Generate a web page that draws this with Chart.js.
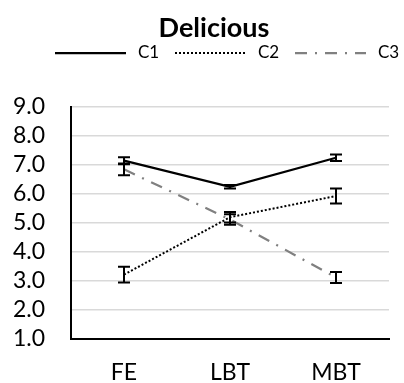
<!DOCTYPE html>
<html>
<head>
<meta charset="utf-8">
<script src="https://cdn.jsdelivr.net/npm/chart.js@4.4.1/dist/chart.umd.min.js"></script>
<style>
  html, body { margin: 0; padding: 0; background: #fff; }
  canvas { display: block; }
</style>
</head>
<body>
<canvas id="chart" width="404" height="383"></canvas>
<script>
// categories and series
const categories = ['FE', 'LBT', 'MBT'];
const seriesNames = ['C1', 'C2', 'C3'];
const c1Values = [7.15, 6.25, 7.25];
const c2Values = [3.22, 5.2, 5.93];
const c3Values = [6.85, 5.12, 3.12];
const c1Errors = [0.12, 0.06, 0.11];
const c2Errors = [0.27, 0.18, 0.26];
const c3Errors = [0.2, 0.18, 0.19];
const yTicks = [1, 2, 3, 4, 5, 6, 7, 8, 9];

const FONT = 'Lato, "DejaVu Sans", sans-serif';
Chart.defaults.color = '#000';
Chart.defaults.font.family = FONT;

/**
 * Vertical error bars with caps, drawn through the y scale
 */
const errorBars = {
  id: 'errorBars',
  afterDatasetsDraw(chart) {
    const ctx = chart.ctx;
    const y = chart.scales.y;
    chart.data.datasets.forEach((ds, i) => {
      const meta = chart.getDatasetMeta(i);
      ctx.save();
      ctx.strokeStyle = '#000';
      ctx.lineWidth = 2;
      meta.data.forEach((pt, j) => {
        const v = ds.data[j];
        const e = ds.errors[j];
        const top = y.getPixelForValue(v + e);
        const bot = y.getPixelForValue(v - e);
        ctx.beginPath();
        ctx.moveTo(pt.x, top);
        ctx.lineTo(pt.x, bot);
        ctx.moveTo(pt.x - 6, top);
        ctx.lineTo(pt.x + 6, top);
        ctx.moveTo(pt.x - 6, bot);
        ctx.lineTo(pt.x + 6, bot);
        ctx.stroke();
      });
      ctx.restore();
    });
  }
};

/**
 * Excel-style legend: a line sample for each series, then its name
 */
const lineLegend = {
  id: 'lineLegend',
  afterDraw(chart) {
    const ctx = chart.ctx;
    const y = 53;
    let textX = 138;
    chart.data.datasets.forEach(ds => {
      ctx.save();
      ctx.strokeStyle = ds.borderColor;
      ctx.lineWidth = ds.borderWidth;
      ctx.setLineDash(ds.borderDash || []);
      ctx.beginPath();
      ctx.moveTo(textX - 83, y);
      ctx.lineTo(textX - 12, y);
      ctx.stroke();
      ctx.setLineDash([]);
      ctx.fillStyle = '#000';
      ctx.font = '17px ' + FONT;
      ctx.textAlign = 'left';
      ctx.textBaseline = 'middle';
      ctx.fillText(ds.label, textX, y);
      ctx.restore();
      textX += 120;
    });
  }
};

new Chart(document.getElementById('chart'), {
  type: 'line',
  data: {
    labels: categories,
    datasets: [
      {
        label: seriesNames[0],
        data: c1Values,
        errors: c1Errors,
        borderColor: '#000',
        backgroundColor: 'transparent',
        borderWidth: 2.25
      },
      {
        label: seriesNames[1],
        data: c2Values,
        errors: c2Errors,
        borderColor: '#000',
        backgroundColor: 'transparent',
        borderWidth: 2,
        borderDash: [2, 2]
      },
      {
        label: seriesNames[2],
        data: c3Values,
        errors: c3Errors,
        borderColor: '#808080',
        backgroundColor: 'transparent',
        borderWidth: 2.25,
        borderDash: [12, 8, 2, 8]
      }
    ]
  },
  options: {
    responsive: false,
    animation: false,
    layout: { padding: { left: 39, right: 15, top: 0, bottom: 0 } },
    elements: { point: { radius: 0, hoverRadius: 0 }, line: { tension: 0 } },
    plugins: {
      tooltip: { enabled: false },
      legend: { display: false },
      title: {
        display: true,
        text: 'Delicious',
        font: { size: 27, weight: 'bold', family: FONT },
        padding: { top: 12, bottom: 62.6 }
      }
    },
    scales: {
      x: {
        offset: true,
        afterFit: s => { s.height = 44; },
        grid: { display: false, drawTicks: false },
        border: { display: true, color: '#000', width: 2 },
        ticks: { padding: 20, font: { size: 23, family: FONT } }
      },
      y: {
        min: 1,
        max: 9,
        afterBuildTicks: s => { s.ticks = yTicks.map(v => ({ value: v })); },
        afterFit: s => { s.width = 32; },
        grid: { color: '#d9d9d9', lineWidth: 1.5, drawTicks: false },
        border: { display: true, color: '#000', width: 2 },
        ticks: {
          autoSkip: false,
          mirror: true,
          padding: -58,
          font: { size: 23, family: FONT },
          callback: v => Number(v).toFixed(1)
        }
      }
    }
  },
  plugins: [errorBars, lineLegend]
});
</script>
</body>
</html>
